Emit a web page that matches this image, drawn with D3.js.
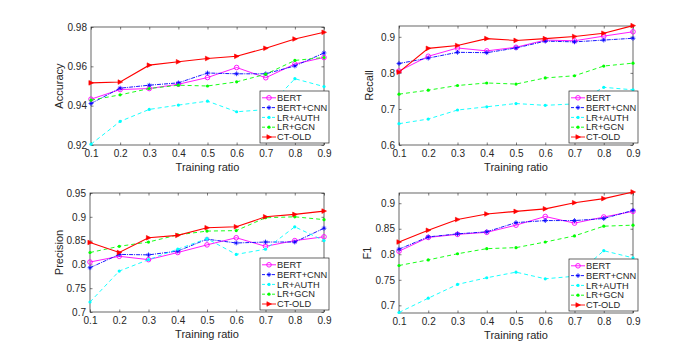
<!DOCTYPE html>
<meta charset="utf-8">
<style>
body { margin: 0; background: #fff; }
svg text { font-family: "Liberation Sans", Arial, sans-serif; fill: #262626; }
.tick line { stroke: #262626; stroke-width: 0.6px; }
.tick text { font-size: 10px; }
</style>
<svg width="700" height="351"></svg>
<script src="https://d3js.org/d3.v7.min.js"></script>
<script>

// training ratios on the x axis
var ratios = [0.1, 0.2, 0.3, 0.4, 0.5, 0.6, 0.7, 0.8, 0.9];
var methods = ["BERT", "BERT+CNN", "LR+AUTH", "LR+GCN", "CT-OLD"];

// Accuracy
var accBERT    = [0.9433, 0.9482, 0.9487, 0.9509, 0.9543, 0.9594, 0.9542, 0.9612, 0.9645];
var accBERTCNN = [0.9411, 0.9489, 0.9504, 0.9516, 0.9566, 0.9562, 0.9562, 0.9602, 0.9668];
var accLRAUTH  = [0.9204, 0.9320, 0.9381, 0.9403, 0.9423, 0.9369, 0.9380, 0.9537, 0.9497];
var accLRGCN   = [0.9428, 0.9455, 0.9487, 0.9504, 0.9500, 0.9521, 0.9560, 0.9630, 0.9645];
var accCTOLD   = [0.9516, 0.9520, 0.9606, 0.9623, 0.9640, 0.9651, 0.9692, 0.9739, 0.9773];

// Recall
var recBERT    = [0.805, 0.846, 0.869, 0.861, 0.871, 0.891, 0.889, 0.902, 0.914];
var recBERTCNN = [0.826, 0.841, 0.857, 0.856, 0.869, 0.888, 0.886, 0.891, 0.896];
var recLRAUTH  = [0.659, 0.672, 0.697, 0.706, 0.715, 0.710, 0.714, 0.760, 0.753];
var recLRGCN   = [0.741, 0.752, 0.765, 0.772, 0.769, 0.786, 0.792, 0.819, 0.827];
var recCTOLD   = [0.802, 0.868, 0.876, 0.895, 0.890, 0.895, 0.901, 0.910, 0.931];

// Precision
var preBERT    = [0.805, 0.817, 0.810, 0.825, 0.841, 0.856, 0.838, 0.850, 0.858];
var preBERTCNN = [0.793, 0.821, 0.820, 0.828, 0.853, 0.845, 0.847, 0.847, 0.876];
var preLRAUTH  = [0.721, 0.786, 0.810, 0.832, 0.854, 0.821, 0.832, 0.879, 0.850];
var preLRGCN   = [0.825, 0.838, 0.847, 0.862, 0.870, 0.871, 0.898, 0.900, 0.894];
var preCTOLD   = [0.846, 0.825, 0.856, 0.861, 0.877, 0.879, 0.900, 0.905, 0.912];

// F1
var f1BERT     = [0.806, 0.833, 0.839, 0.843, 0.857, 0.874, 0.861, 0.873, 0.884];
var f1BERTCNN  = [0.810, 0.834, 0.840, 0.844, 0.862, 0.866, 0.866, 0.870, 0.886];
var f1LRAUTH   = [0.686, 0.714, 0.741, 0.754, 0.765, 0.752, 0.757, 0.807, 0.793];
var f1LRGCN    = [0.778, 0.789, 0.801, 0.811, 0.813, 0.824, 0.836, 0.855, 0.857];
var f1CTOLD    = [0.824, 0.847, 0.868, 0.879, 0.884, 0.889, 0.901, 0.909, 0.922];

// y tick labels per panel
var accTicks = [0.92, 0.94, 0.96, 0.98];
var recTicks = [0.6, 0.7, 0.8, 0.9];
var preTicks = [0.7, 0.75, 0.8, 0.85, 0.9, 0.95];
var f1Ticks  = [0.7, 0.75, 0.8, 0.85, 0.9];

var styles = {
  "BERT":     { color: "#ff00ff", dash: null,      marker: "circle" },
  "BERT+CNN": { color: "#0000ff", dash: "4,1,1,1", marker: "plus" },
  "LR+AUTH":  { color: "#00ffff", dash: "4,3",     marker: "dot" },
  "LR+GCN":   { color: "#00ff00", dash: "4,3",     marker: "dot" },
  "CT-OLD":   { color: "#ff0000", dash: null,      marker: "tri" }
};

var panels = [
  { label: "Accuracy", left: 91, top: 27, w: 233, h: 118, domain: [0.92, 0.98], ticks: accTicks, fmt: function(d){ return d3.format(".2f")(d); },
    series: [accBERT, accBERTCNN, accLRAUTH, accLRGCN, accCTOLD], ylabX: 63 },
  { label: "Recall", left: 399, top: 26, w: 234, h: 119, domain: [0.6, 0.93], ticks: recTicks, fmt: function(d){ return d3.format(".1f")(d); },
    series: [recBERT, recBERTCNN, recLRAUTH, recLRGCN, recCTOLD], ylabX: 373 },
  { label: "Precision", left: 90, top: 193, w: 234, h: 119, domain: [0.7, 0.95], ticks: preTicks, fmt: function(d){ return String(+d.toFixed(2)); },
    series: [preBERT, preBERTCNN, preLRAUTH, preLRGCN, preCTOLD], ylabX: 63 },
  { label: "F1", left: 399, top: 193, w: 234, h: 120, domain: [0.685, 0.92], ticks: f1Ticks, fmt: function(d){ return String(+d.toFixed(2)); },
    series: [f1BERT, f1BERTCNN, f1LRAUTH, f1LRGCN, f1CTOLD], ylabX: 371 }
];

var svg = d3.select("svg");

function drawMarker(g, type, color) {
  if (type == "circle") {
    g.append("circle").attr("r", 2.3).attr("fill", "none").attr("stroke", color).attr("stroke-width", 0.9);
  } else if (type == "plus") {
    g.append("path").attr("d", "M-2.4,0H2.4M0,-2.4V2.4M-1.5,-1.5L1.5,1.5M-1.5,1.5L1.5,-1.5")
      .attr("stroke", color).attr("stroke-width", 0.8);
  } else if (type == "dot") {
    g.append("circle").attr("r", 1.6).attr("fill", color);
  } else {
    g.append("path").attr("d", "M-2.1,-2.3L2.5,0L-2.1,2.3Z").attr("fill", color).attr("stroke", color).attr("stroke-width", 0.6);
  }
}

panels.forEach(function(p) {
  var g = svg.append("g").attr("transform", "translate(" + p.left + "," + p.top + ")");

  var x = d3.scaleLinear().domain([0.1, 0.9]).range([0, p.w]);
  var y = d3.scaleLinear().domain(p.domain).range([p.h, 0]);

  // axes with inward ticks (box style)
  var xb = g.append("g").attr("transform", "translate(0," + p.h + ")")
    .call(d3.axisBottom(x).tickValues(ratios).tickSizeInner(-2.5).tickSizeOuter(0).tickPadding(4).tickFormat(d3.format(".1f")));
  g.append("g")
    .call(d3.axisTop(x).tickValues(ratios).tickSizeInner(-2.5).tickSizeOuter(0).tickFormat(""));
  g.append("g")
    .call(d3.axisLeft(y).tickValues(p.ticks).tickSizeInner(-2.5).tickSizeOuter(0).tickPadding(4).tickFormat(p.fmt));
  g.append("g").attr("transform", "translate(" + p.w + ",0)")
    .call(d3.axisRight(y).tickValues(p.ticks).tickSizeInner(-2.5).tickSizeOuter(0).tickFormat(""));
  g.selectAll(".domain").remove();
  xb.selectAll("text").attr("dy", "0.75em");

  g.append("rect").attr("width", p.w).attr("height", p.h)
    .attr("fill", "none").attr("stroke", "#262626").attr("stroke-width", 0.7);

  var line = d3.line()
    .x(function(d, i) { return x(ratios[i]); })
    .y(function(d) { return y(d); });

  p.series.forEach(function(vals, k) {
    var st = styles[methods[k]];
    g.append("path").datum(vals)
      .attr("d", line)
      .attr("fill", "none")
      .attr("stroke", st.color)
      .attr("stroke-width", methods[k] == "CT-OLD" ? 1.1 : 0.9)
      .attr("stroke-dasharray", st.dash);
    vals.forEach(function(v, i) {
      var m = g.append("g").attr("transform", "translate(" + x(ratios[i]) + "," + y(v) + ")");
      drawMarker(m, st.marker, st.color);
    });
  });

  // axis labels
  g.append("text").attr("x", p.w / 2).attr("y", p.h + 26)
    .attr("text-anchor", "middle").style("font-size", "11px").text("Training ratio");
  g.append("text")
    .attr("transform", "translate(" + (p.ylabX - p.left) + "," + (p.h / 2) + ") rotate(-90)")
    .attr("text-anchor", "middle").style("font-size", "11px").text(p.label);

  // legend, lower right, slightly past the box
  var lw = 69, lh = 52;
  var lg = g.append("g").attr("transform", "translate(" + (p.w + 5 - lw) + "," + (p.h - lh - 2) + ")");
  lg.append("rect").attr("width", lw).attr("height", lh)
    .attr("fill", "#fff").attr("stroke", "#262626").attr("stroke-width", 0.7);
  methods.forEach(function(name, k) {
    var st = styles[name];
    var ry = 6.8 + k * 9.8;
    lg.append("line").attr("x1", 2).attr("x2", 16).attr("y1", ry).attr("y2", ry)
      .attr("stroke", st.color).attr("stroke-width", 0.9).attr("stroke-dasharray", st.dash ? "3,2" : null);
    var m = lg.append("g").attr("transform", "translate(9," + ry + ")");
    drawMarker(m, st.marker, st.color);
    lg.append("text").attr("x", 17).attr("y", ry).attr("dy", "0.35em")
      .style("font-size", "9.3px").text(name);
  });
});

</script>
